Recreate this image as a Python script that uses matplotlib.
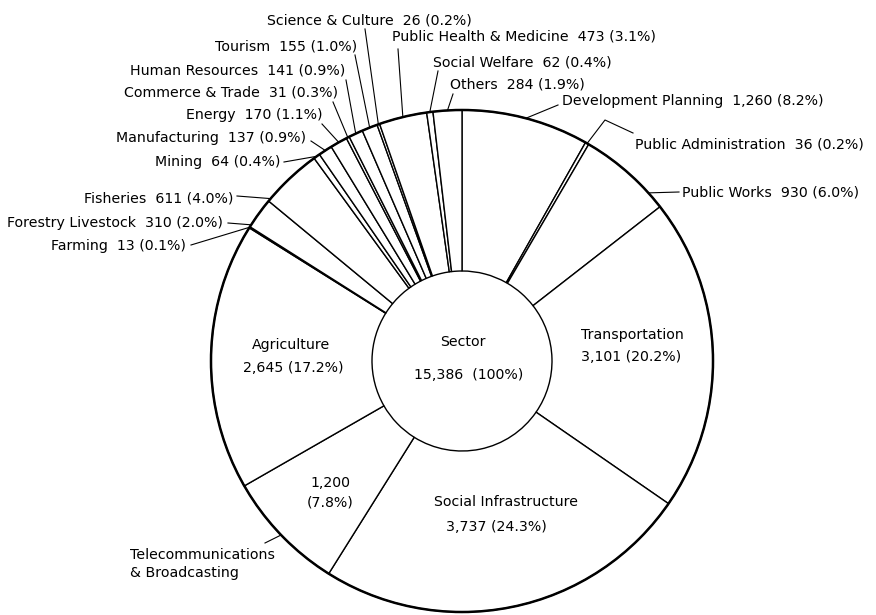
import numpy as np
import matplotlib
matplotlib.use("Agg")
import matplotlib.pyplot as plt
from matplotlib.patches import Circle

# sectors clockwise from 12 o'clock
sectors = [
    "Development Planning", "Public Administration", "Public Works",
    "Transportation", "Social Infrastructure", "Telecommunications",
    "Agriculture", "Farming", "Forestry Livestock", "Fisheries", "Mining",
    "Manufacturing", "Energy", "Commerce & Trade", "Human Resources",
    "Tourism", "Science & Culture", "Public Health & Medicine",
    "Social Welfare", "Others",
]
values = [1260, 36, 930, 3101, 3737, 1200, 2645, 13, 310, 611, 64,
          137, 170, 31, 141, 155, 26, 473, 62, 284]
percents = ["8.2", "0.2", "6.0", "20.2", "24.3", "7.8", "17.2", "0.1", "2.0",
            "4.0", "0.4", "0.9", "1.1", "0.3", "0.9", "1.0", "0.2", "3.1",
            "0.4", "1.9"]
center_title = "Sector"

W, H = 876, 615
CX, CY = 462, 361          # centre in image pixels
R_OUT, R_IN = 251, 90
FONT = ["DejaVu Sans"]
FS = 10.2


def iy(y):
    return H - y


# outer labels: (x, y, ha), leader start, optional bend point, position in wedge
outer = {
    "Development Planning": ((562, 101, "left"), (558, 105), None, 0.5),
    "Public Administration": ((635, 145, "left"), (633, 133), (605, 120), 0.5),
    "Public Works": ((682, 192, "left"), (679, 192), None, 0.81),
    "Farming": ((186, 246, "right"), (191, 245), None, 0.5),
    "Forestry Livestock": ((223, 223, "right"), (228, 223), None, 0.07),
    "Fisheries": ((233, 198, "right"), (237, 196), None, 0.05),
    "Mining": ((280, 162, "right"), (284, 162), None, 0.5),
    "Manufacturing": ((306, 138, "right"), (311, 141), None, 0.5),
    "Energy": ((323, 115, "right"), (322, 124), None, 0.5),
    "Commerce & Trade": ((338, 92, "right"), (333, 102), None, 0.5),
    "Human Resources": ((345, 70, "right"), (346, 80), None, 0.5),
    "Tourism": ((357, 46, "right"), (355, 55), None, 0.5),
    "Science & Culture": ((369, 21, "center"), (365, 29), None, 0.5),
    "Public Health & Medicine": ((392, 37, "left"), (398, 49), None, 0.5),
    "Social Welfare": ((433, 62, "left"), (438, 71), None, 0.5),
    "Others": ((450, 85, "left"), (453, 94), None, 0.5),
}

fig = plt.figure(figsize=(W / 100, H / 100), dpi=100)
ax = fig.add_axes([0, 0, 1, 1])

ax.pie(values, center=(CX, iy(CY)), radius=R_OUT, startangle=90,
       counterclock=False,
       wedgeprops=dict(width=R_OUT - R_IN, facecolor="white",
                       edgecolor="black", linewidth=1.0))
ax.add_patch(Circle((CX, iy(CY)), R_OUT, fill=False, edgecolor="black",
                    linewidth=1.8, zorder=5))
ax.set_xlim(0, W)
ax.set_ylim(0, H)
ax.set_aspect("equal")
ax.axis("off")

total = sum(values)
bounds = np.concatenate([[0], np.cumsum(values)]) / total * 360.0

for i, name in enumerate(sectors):
    if name not in outer:
        continue
    (tx, ty, ha), start, bend, frac = outer[name]
    ang = np.radians(bounds[i] + frac * (bounds[i + 1] - bounds[i]))
    ex = CX + R_OUT * np.sin(ang)
    ey = iy(CY) + R_OUT * np.cos(ang)
    pts = [start] + ([bend] if bend else [])
    xs = [p[0] for p in pts] + [ex]
    ys = [iy(p[1]) for p in pts] + [ey]
    ax.plot(xs, ys, color="black", linewidth=0.8, zorder=4)
    ax.text(tx, iy(ty), f"{name}  {values[i]:,} ({percents[i]}%)",
            ha=ha, va="center", fontsize=FS, family=FONT)


def label(x, y, s, ha="center"):
    ax.text(x, iy(y), s, ha=ha, va="center", fontsize=FS, family=FONT)


idx = {n: k for k, n in enumerate(sectors)}
for name, (x1, y1), (x2, y2) in [
    ("Transportation", (632, 335), (631, 357)),
    ("Social Infrastructure", (506, 502), (496, 527)),
    ("Agriculture", (291, 345), (293, 368)),
]:
    k = idx[name]
    label(x1, y1, name)
    label(x2, y2, f"{values[k]:,} ({percents[k]}%)")

k = idx["Telecommunications"]
label(330, 483, f"{values[k]:,}")
label(330, 502, f"({percents[k]}%)")
label(130, 555, "Telecommunications", ha="left")
label(130, 573, "& Broadcasting", ha="left")
ang = np.radians(0.5 * (bounds[k] + bounds[k + 1]))
ax.plot([265, CX + R_OUT * np.sin(ang)],
        [iy(543), iy(CY) + R_OUT * np.cos(ang)],
        color="black", linewidth=0.8)

label(463, 342, center_title)
label(469, 375, f"{total:,}  (100%)")

fig.savefig("out.png", dpi=100, facecolor="white")
